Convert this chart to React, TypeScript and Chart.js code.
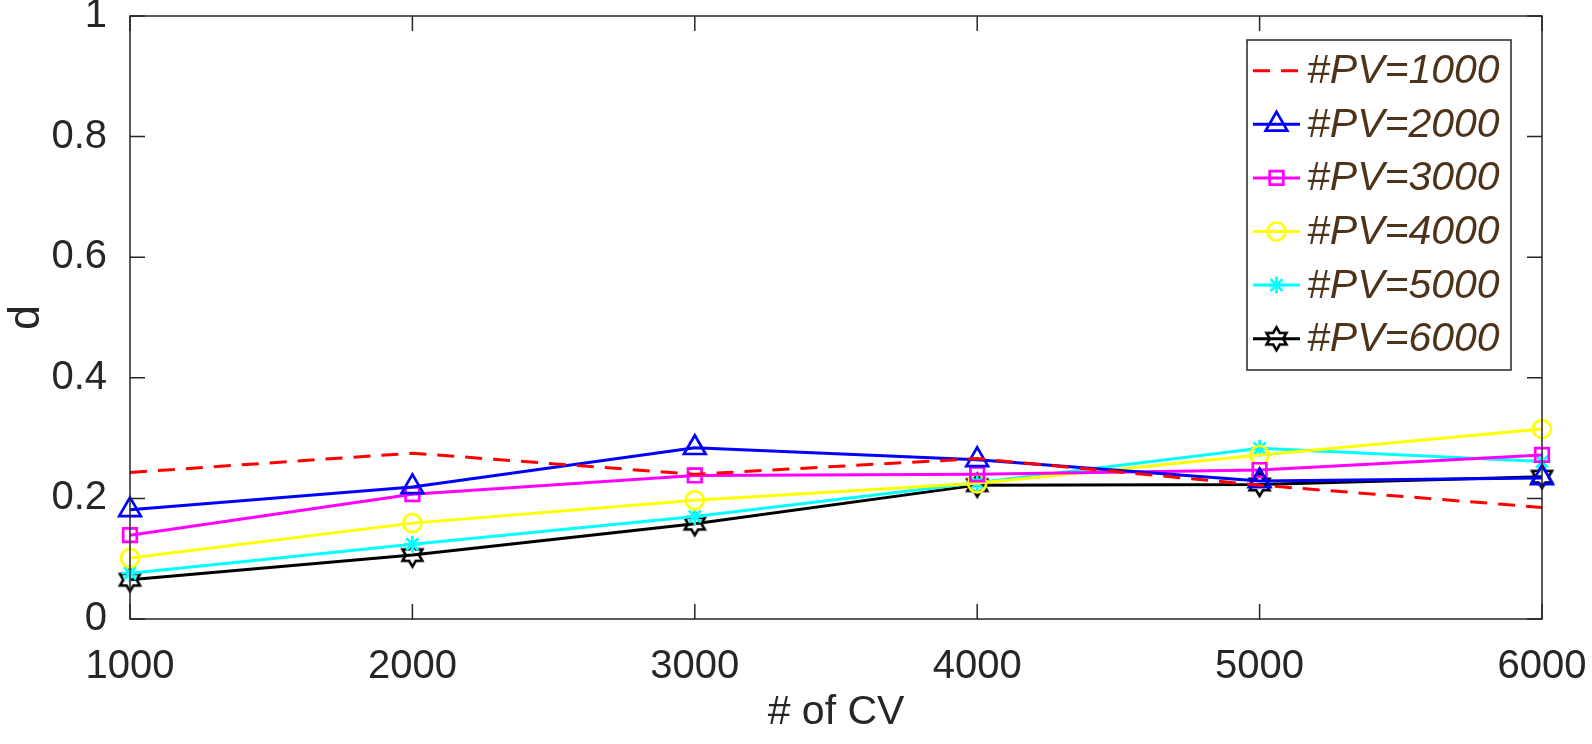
import React, { useEffect, useRef } from 'react';
import { Chart, registerables } from 'chart.js';
import { drawPoint } from 'chart.js/helpers';

Chart.register(...registerables);

// values
const cvCounts = [1000, 2000, 3000, 4000, 5000, 6000];
const yTicks = [0, 0.2, 0.4, 0.6, 0.8, 1];
const yTickLabels = ['0', '0.2', '0.4', '0.6', '0.8', '1'];

const pv1000 = [0.243, 0.275, 0.240, 0.266, 0.222, 0.185];
const pv2000 = [0.181, 0.219, 0.284, 0.264, 0.229, 0.234];
const pv3000 = [0.139, 0.207, 0.238, 0.240, 0.247, 0.272];
const pv4000 = [0.101, 0.159, 0.197, 0.225, 0.272, 0.315];
const pv5000 = [0.076, 0.124, 0.170, 0.226, 0.283, 0.261];
const pv6000 = [0.065, 0.106, 0.158, 0.222, 0.223, 0.236];

const seriesLabels = ['#PV=1000', '#PV=2000', '#PV=3000', '#PV=4000', '#PV=5000', '#PV=6000'];

const FONT = '"Liberation Sans", Arial, Helvetica, sans-serif';
const AXIS_COLOR = '#262626';
const LEGEND_TEXT = 'rgb(77,51,26)';

function makeHexagram(R: number, lw: number, color: string) {
  const s = Math.ceil(2 * R + lw * 2 + 2);
  const c = document.createElement('canvas');
  c.width = s;
  c.height = s;
  const g = c.getContext('2d')!;
  g.translate(s / 2, s / 2);
  const r = R / Math.sqrt(3);
  g.beginPath();
  for (let i = 0; i < 12; i++) {
    const a = -Math.PI / 2 + (i * Math.PI) / 6;
    const rad = i % 2 === 0 ? R : r;
    const px = Math.cos(a) * rad;
    const py = Math.sin(a) * rad;
    if (i === 0) g.moveTo(px, py);
    else g.lineTo(px, py);
  }
  g.closePath();
  g.lineWidth = lw;
  g.strokeStyle = color;
  g.stroke();
  return c;
}

// inward ticks + box, MATLAB style
const boxPlugin = {
  id: 'matlabBox',
  afterDatasetsDraw(chart: any) {
    const { ctx, chartArea: a } = chart;
    const xs = chart.scales.x;
    const ys = chart.scales.y;
    const tl = 15;
    ctx.save();
    ctx.strokeStyle = AXIS_COLOR;
    ctx.lineWidth = 1.5;
    ctx.beginPath();
    cvCounts.forEach((v) => {
      const px = xs.getPixelForValue(v);
      ctx.moveTo(px, a.bottom);
      ctx.lineTo(px, a.bottom - tl);
      ctx.moveTo(px, a.top);
      ctx.lineTo(px, a.top + tl);
    });
    yTicks.forEach((v) => {
      const py = ys.getPixelForValue(v);
      ctx.moveTo(a.left, py);
      ctx.lineTo(a.left + tl, py);
      ctx.moveTo(a.right, py);
      ctx.lineTo(a.right - tl, py);
    });
    ctx.stroke();
    ctx.strokeRect(a.left, a.top, a.right - a.left, a.bottom - a.top);
    ctx.restore();
  },
};

const legendPlugin = {
  id: 'matlabLegend',
  afterDraw(chart: any) {
    const { ctx, chartArea: a } = chart;
    const w = 264;
    const h = 330;
    const left = a.right - 31 - w;
    const top = a.top + 24;
    ctx.save();
    ctx.fillStyle = '#ffffff';
    ctx.fillRect(left, top, w, h);
    ctx.strokeStyle = AXIS_COLOR;
    ctx.lineWidth = 1.5;
    ctx.strokeRect(left, top, w, h);

    chart.data.datasets.forEach((ds: any, i: number) => {
      const cy = top + 30.7 + i * 53.6;
      ctx.save();
      ctx.strokeStyle = ds.borderColor;
      ctx.lineWidth = ds.borderWidth;
      ctx.setLineDash(ds.borderDash || []);
      ctx.beginPath();
      ctx.moveTo(left + 6, cy);
      ctx.lineTo(left + 53, cy);
      ctx.stroke();
      ctx.setLineDash([]);
      if (ds.pointRadius > 0) {
        ctx.strokeStyle = ds.pointBorderColor;
        ctx.fillStyle = 'rgba(0,0,0,0)';
        ctx.lineWidth = ds.pointBorderWidth;
        drawPoint(ctx, {
          pointStyle: ds.pointStyle,
          radius: ds.pointRadius,
          rotation: 0,
          borderWidth: ds.pointBorderWidth,
        } as any, left + 29.5, cy);
      }
      ctx.restore();

      ctx.fillStyle = LEGEND_TEXT;
      ctx.font = `italic 41px ${FONT}`;
      ctx.textAlign = 'left';
      ctx.textBaseline = 'middle';
      ctx.fillText(ds.label, left + 60, cy + 1);
    });
    ctx.restore();
  },
};

const App = () => {
  const canvasRef = useRef<HTMLCanvasElement>(null);
  const chartRef = useRef<Chart | null>(null);

  useEffect(() => {
    if (!canvasRef.current) return;
    const ctx = canvasRef.current.getContext('2d');
    if (!ctx) return;
    if (chartRef.current) chartRef.current.destroy();

    const hexagram = makeHexagram(11.5, 2.6, '#000000');
    const toPts = (vals: number[]) => vals.map((v, i) => ({ x: cvCounts[i], y: v }));

    const series = [
      { data: pv1000, color: '#ff0000', style: false as any, radius: 0, dash: [17, 11] },
      { data: pv2000, color: '#0000ff', style: 'triangle', radius: 12.5, dash: [] },
      { data: pv3000, color: '#ff00ff', style: 'rect', radius: 9.6, dash: [] },
      { data: pv4000, color: '#ffff00', style: 'circle', radius: 9, dash: [] },
      { data: pv5000, color: '#00ffff', style: 'star', radius: 8.5, dash: [] },
      { data: pv6000, color: '#000000', style: hexagram, radius: 11, dash: [] },
    ];

    chartRef.current = new Chart(ctx, {
      type: 'line',
      data: {
        datasets: series.map((s, i) => ({
          label: seriesLabels[i],
          data: toPts(s.data),
          borderColor: s.color,
          borderWidth: 3,
          borderDash: s.dash,
          pointStyle: s.style,
          pointRadius: s.radius,
          pointHoverRadius: s.radius,
          pointBorderColor: s.color,
          pointBackgroundColor: 'rgba(0,0,0,0)',
          pointBorderWidth: 2.7,
          tension: 0,
          clip: false as any,
        })),
      },
      options: {
        animation: false,
        responsive: false,
        events: [],
        layout: { padding: { top: 16, right: 50, left: 0, bottom: 0 } },
        plugins: {
          legend: { display: false },
          tooltip: { enabled: false },
        },
        scales: {
          x: {
            type: 'linear',
            min: 1000,
            max: 6000,
            grid: { display: false },
            border: { display: false },
            afterBuildTicks: (scale: any) => {
              scale.ticks = cvCounts.map((v) => ({ value: v }));
            },
            afterFit: (scale: any) => {
              scale.height = 125;
              scale.paddingLeft = 0;
              scale.paddingRight = 0;
            },
            ticks: {
              color: AXIS_COLOR,
              font: { family: FONT, size: 40 },
              padding: 16,
              maxRotation: 0,
              autoSkip: false,
              callback: (v: any) => String(v),
            },
            title: {
              display: true,
              text: '# of CV',
              color: AXIS_COLOR,
              font: { family: FONT, size: 41 },
              padding: { top: 4, bottom: 7 },
            },
          },
          y: {
            type: 'linear',
            min: 0,
            max: 1,
            grid: { display: false },
            border: { display: false },
            afterBuildTicks: (scale: any) => {
              scale.ticks = yTicks.map((v) => ({ value: v }));
            },
            afterFit: (scale: any) => {
              scale.width = 130;
              scale.paddingTop = 0;
              scale.paddingBottom = 0;
            },
            ticks: {
              color: AXIS_COLOR,
              font: { family: FONT, size: 40 },
              padding: 15,
              autoSkip: false,
              callback: (_v: any, i: number) => yTickLabels[i],
            },
            title: {
              display: true,
              text: 'd',
              color: AXIS_COLOR,
              font: { family: FONT, size: 45 },
              padding: { top: 0, bottom: 4 },
            },
          },
        },
      },
      plugins: [boxPlugin, legendPlugin],
    });

    return () => {
      if (chartRef.current) {
        chartRef.current.destroy();
        chartRef.current = null;
      }
    };
  }, []);

  return (
    <div style={{ position: 'absolute', left: 0, top: 0, width: 1592, height: 744, background: '#fff' }}>
      <canvas ref={canvasRef} width={1592} height={744} style={{ display: 'block' }} />
    </div>
  );
};

export default App;
